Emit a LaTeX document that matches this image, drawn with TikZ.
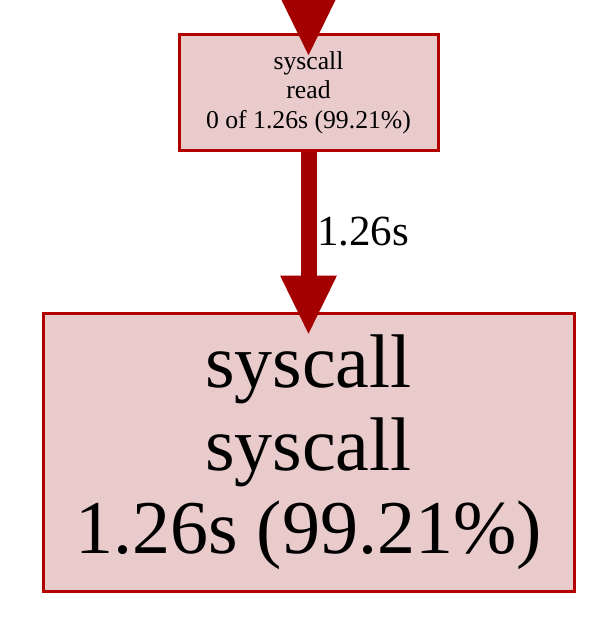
\documentclass[tikz,border=0pt]{standalone}
\usepackage{fontspec}
\setmainfont{Liberation Serif}
\usetikzlibrary{arrows.meta}
\definecolor{edgered}{HTML}{A50000}
\definecolor{boxred}{HTML}{B20000}
\definecolor{boxfill}{HTML}{EACBCB}
\begin{document}
\begin{tikzpicture}[x=1pt,y=-1pt,
    fnbox/.style={draw=boxred,fill=boxfill,line width=3pt,rectangle,align=center,inner sep=0pt},
    flow/.style={draw=edgered,line width=16pt,-{Triangle[length=60pt,width=52pt]}}]
                \clip (0,0) rectangle (614,632);
                \node[fnbox,minimum width=259pt,minimum height=116pt,font=\fontsize{25.7}{29.5}\selectfont] (read) at (308.5,92.5) {syscall\\read\\0 of 1.26s (99.21\%)};
                \node[fnbox,minimum width=531pt,minimum height=278pt,font=\fontsize{76}{83}\selectfont] (sys) at (308.5,452) {syscall\\syscall\\1.26s (99.21\%)};
                \coordinate (caller) at (308.5,-40);

                \draw[flow,shorten >=-24pt] (caller) -- (read.north);
                \draw[flow,shorten >=-24pt] (read.south) -- (sys.north)
                    node[midway,anchor=west,xshift=0.5pt,inner sep=0pt,font=\fontsize{43}{50}\selectfont] (cost) {1.26s};
            \end{tikzpicture}
\end{document}
